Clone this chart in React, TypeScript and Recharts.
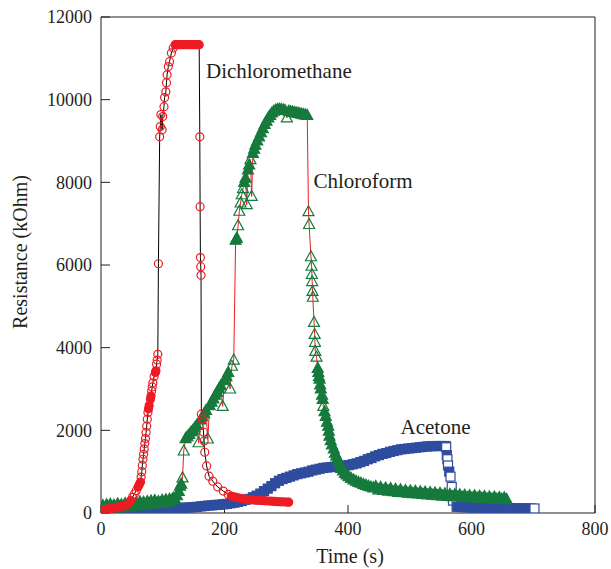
import { LineChart, Line, XAxis, YAxis, ReferenceLine, ReferenceDot } from "recharts";

// Dichloromethane: time (s) and resistance (kOhm)
const dcmTime = [
  0, 3, 6, 9, 12, 15, 18, 21, 24, 27, 30, 33, 36, 39, 42, 45, 48, 51, 54, 57, 60, 62, 64, 65, 66, 67, 68, 69, 70,
  71, 72, 73, 74, 75, 76, 77, 78, 80, 81, 82, 83, 84, 86, 88, 89, 90, 91, 92, 93, 95, 96, 97, 99, 100, 102, 103,
  105, 106, 107, 109, 111, 114, 117, 120, 123, 126, 129, 132, 135, 138, 141, 144, 147, 150, 153, 156, 159, 160,
  160.5, 161, 161.5, 162, 162.5, 164, 166, 167, 168, 171, 175, 181, 189, 198, 206, 211, 216, 221, 226, 231, 236,
  241, 246, 251, 256, 261, 266, 271, 276, 281, 286, 291, 296, 301, 304,
];
const dcmRes = [
  60, 70, 80, 90, 100, 110, 115, 120, 130, 140, 150, 160, 170, 180, 200, 240, 300, 380, 460, 540, 630, 690, 750,
  870, 1000, 1150, 1300, 1420, 1550, 1680, 1800, 1950, 2100, 2270, 2430, 2520, 2600, 2750, 2830, 2950, 3050, 3150,
  3300, 3400, 3440, 3600, 3700, 3840, 6030, 9100, 9350, 9640, 9270, 9590, 9830, 10050, 10190, 10410, 10600, 10800,
  10920, 11130, 11250, 11330, 11330, 11330, 11330, 11330, 11330, 11330, 11330, 11330, 11330, 11330, 11330, 11330,
  11330, 9100, 7410, 6180, 5960, 5750, 2390, 2270, 1960, 1740, 1470, 1140, 890, 770, 630, 530, 450, 410, 390, 370,
  355, 340, 330, 320, 315, 310, 305, 300, 295, 290, 285, 280, 275, 270, 268, 265, 262,
];

// Chloroform
const chlTime = [
  0, 3, 6, 9, 12, 15, 18, 21, 24, 27, 30, 33, 36, 39, 42, 45, 48, 51, 54, 57, 60, 63, 66, 69, 72, 75, 78, 81, 84,
  87, 90, 93, 96, 99, 102, 105, 108, 111, 114, 117, 120, 123, 126, 128, 130, 132, 134,
  137, 140, 143, 146, 149, 152, 155, 158, 161, 164, 167, 170, 173, 176, 179, 182, 185, 188, 191, 194, 197, 200,
  203, 206, 209, 212, 215,
  218, 220, 222, 224, 226, 228, 230, 232, 234, 236, 238, 240, 242, 244, 246, 248, 250, 253, 256, 259, 262, 265,
  268, 271, 274, 277, 280, 283, 286, 289, 292, 295, 298, 301, 304, 307, 310, 313, 316, 319, 322, 325, 328, 331, 334,
  336, 337, 340, 341, 341.5, 342, 342.5, 343, 345, 346, 346.5, 347, 349, 351, 352, 353, 354, 355, 356, 358, 359,
  360, 362, 364, 366, 368, 369, 370, 372, 374, 377, 379, 381, 383, 385, 387, 389, 392, 395, 398, 401, 405, 409,
  413, 417, 421, 425, 429, 433, 437, 441,
  445, 449, 453, 457, 461, 465, 469, 473, 477, 481, 485, 489, 493, 497, 501, 505, 509, 513, 517, 521, 525, 529,
  533, 537, 541, 545, 549, 553, 557, 561, 565, 569, 573, 577, 581, 585, 589, 593, 597, 601, 605, 609, 613, 617,
  621, 625, 629, 633, 637, 641, 645, 649, 653, 657,
];
const chlRes = [
  120, 180, 110, 200, 130, 210, 140, 190, 120, 220, 150, 200, 130, 230, 160, 210, 150, 240, 170, 250, 180, 270,
  200, 260, 190, 280, 210, 290, 220, 300, 230, 280, 240, 310, 250, 320, 260, 330, 300, 360, 330, 420, 520, 650,
  700, 850, 1500,
  1800, 1850, 1900, 1960, 2000, 2060, 2120, 1700, 2250, 2330, 2400, 2480, 1790, 2600, 2680, 2760, 2850, 2920,
  3000, 3080, 2580, 3200, 3300, 3400, 3000, 3550, 3700,
  6600, 6650, 6950, 7300, 7500, 7700, 7850, 8000, 8100, 7460, 8300, 8420, 8550, 7660, 8700, 8800, 8900, 9000,
  9100, 9200, 9300, 9400, 9480, 9560, 9620, 9680, 9720, 9750, 9760, 9770, 9760, 9750, 9740, 9560, 9720, 9710,
  9700, 9690, 9680, 9670, 9660, 9650, 9640, 9630, 9620,
  7290, 6980, 6200, 5970, 5770, 5600, 5360, 5220, 4610, 4320, 4130, 3910, 3770, 3500, 3400, 3300, 3240, 3100,
  3000, 2850, 2750, 2580, 2450, 2340, 2200, 2100, 1980, 1860, 1750, 1650, 1550, 1450, 1380, 1320, 1250, 1150,
  1080, 1020, 960, 920, 880, 840, 800, 770, 740, 720, 690, 670, 650, 630, 610,
  640, 560, 620, 545, 605, 530, 590, 515, 575, 500, 560, 490, 545, 480, 535, 470, 525, 460, 515, 450, 505, 440,
  495, 430, 485, 420, 475, 410, 465, 400, 455, 395, 445, 390, 440, 380, 430, 375, 420, 365, 415, 360, 405, 355,
  400, 345, 390, 340, 385, 335, 375, 330, 370, 325,
];

// Acetone
const aceTime = [
  0, 6, 12, 18, 24, 30, 36, 42, 48, 54, 60, 66, 72, 78, 84, 90, 96, 102, 108, 114, 120, 126, 132, 138, 144, 150,
  156, 162, 168, 174, 180, 186, 192, 198, 204, 210, 216, 222, 228, 234, 240, 246, 252, 258, 264, 270, 276, 282,
  288, 294, 300, 306, 312, 318, 324, 330, 336, 342, 348, 354, 360, 366, 372, 378, 384, 390, 396, 402, 408, 414,
  420, 426, 432, 438, 444, 450, 456, 462, 468, 474, 480, 486, 492, 498, 504, 510, 516, 522, 528, 534, 540, 546,
  552, 558, 559, 560, 561, 562, 564, 566, 568, 570, 576, 582, 588, 594, 600, 606, 612, 618, 624, 630, 636, 642,
  648, 654, 660, 666, 672, 678, 684, 690, 696, 702,
];
const aceRes = [
  80, 80, 85, 85, 90, 90, 95, 95, 100, 100, 100, 105, 105, 110, 110, 110, 115, 115, 115, 120, 120, 120, 125, 130,
  135, 140, 150, 160, 170, 180, 185, 195, 200, 210, 220, 235, 250, 270, 290, 320, 340, 380, 420, 470, 530, 590,
  650, 720, 780, 820, 850, 880, 910, 940, 960, 980, 1000, 1030, 1050, 1070, 1090, 1100, 1110, 1120, 1130, 1140,
  1150, 1160, 1180, 1200, 1230, 1260, 1300, 1330, 1370, 1400, 1430, 1450, 1480, 1500, 1520, 1540, 1550, 1560,
  1570, 1580, 1590, 1600, 1610, 1615, 1620, 1620, 1620, 1620, 1590, 1400, 1300, 1150, 1000, 880, 630, 300, 150,
  145, 140, 140, 135, 135, 130, 130, 125, 125, 125, 120, 120, 120, 115, 115, 115, 115, 110, 110, 110, 110,
];

const xTicks = [0, 200, 400, 600, 800];
const yTicks = [0, 2000, 4000, 6000, 8000, 10000, 12000];

const zip = (ts: number[], rs: number[]) => ts.map((t, i) => ({ t, r: rs[i] }));
const dcmData = zip(dcmTime, dcmRes);
const chlData = zip(chlTime, chlRes);
const aceData = zip(aceTime, aceRes);

const RED = "#ed1c24";
const GREEN = "#167a3c";
const BLUE = "#2f4d9f";
const INK = "#231f20";
const FONT = "'Liberation Serif', 'Times New Roman', serif";

// markers that sit almost on top of their neighbours look solid in the original
const gap = (p: any, j: number) => {
  const pts = p.points;
  if (!pts || p.index == null) return 99;
  const me = pts[p.index];
  const q = pts[j];
  if (!q || q.x == null) return 99;
  return Math.hypot(q.x - me.x, q.y - me.y);
};
const nearest = (p: any) => Math.min(gap(p, p.index - 1), gap(p, p.index + 1));

const CircleDot = (p: any) => (
  <circle key={`c${p.index}`} cx={p.cx} cy={p.cy} r={4} stroke={RED} strokeWidth={1.2}
    fill={nearest(p) < 3.5 ? RED : "none"} />
);
const TriDot = (p: any) => (
  <polygon key={`t${p.index}`}
    points={`${p.cx},${p.cy - 6} ${p.cx - 5.5},${p.cy + 4} ${p.cx + 5.5},${p.cy + 4}`}
    stroke={GREEN} strokeWidth={1.2} fill={nearest(p) < 5.5 ? GREEN : "none"} />
);
// squares are white inside; only the ones covered by the next square read as solid
const SquareDot = (p: any) => (
  <rect key={`s${p.index}`} x={p.cx - 4.5} y={p.cy - 4.5} width={9} height={9} stroke={BLUE} strokeWidth={1.2}
    fill={gap(p, p.index + 1) < 6 ? BLUE : "#fff"} />
);

const YTitle = (props: any) => {
  const vb = props.viewBox;
  const cx = vb.x + 20;
  const cy = vb.y + vb.height / 2 - 13;
  return (
    <text x={cx} y={cy} transform={`rotate(-90 ${cx} ${cy})`} textAnchor="middle" dominantBaseline="central"
      fontFamily={FONT} fontSize={20} fill={INK}>Resistance (kOhm)</text>
  );
};
const XTitle = (props: any) => {
  const vb = props.viewBox;
  return (
    <text x={vb.x + vb.width / 2 + 2} y={vb.y + 50} textAnchor="middle" fontFamily={FONT} fontSize={20}
      fill={INK}>Time (s)</text>
  );
};

const tickStyle = { fontFamily: FONT, fontSize: 18, fill: INK };
const noteStyle = { position: "right" as const, offset: 0, fontFamily: FONT, fontSize: 21, fill: INK };

export default function App() {
  return (
    <div style={{ position: "absolute", left: 0, top: 0 }}>
      <LineChart width={611} height={569} margin={{ top: 17, right: 16, left: 0, bottom: 6 }}>
        <XAxis type="number" dataKey="t" domain={[0, 800]} ticks={xTicks} allowDataOverflow
          tick={tickStyle} tickSize={-8} tickMargin={17} height={50} stroke={INK}
          label={<XTitle />} />
        <YAxis type="number" dataKey="r" domain={[0, 12000]} ticks={yTicks} allowDataOverflow
          tick={tickStyle} tickSize={-9} tickMargin={18} width={101} stroke={INK}
          label={<YTitle />} />
        <ReferenceLine y={12000} stroke={INK} />
        <ReferenceLine x={800} stroke={INK} />
        <Line data={aceData} dataKey="r" stroke="#000" strokeWidth={1} dot={SquareDot}
          isAnimationActive={false} activeDot={false} />
        <Line data={chlData} dataKey="r" stroke={RED} strokeWidth={1} dot={TriDot}
          isAnimationActive={false} activeDot={false} />
        <Line data={dcmData} dataKey="r" stroke="#000" strokeWidth={1} dot={CircleDot}
          isAnimationActive={false} activeDot={false} />
        <ReferenceDot x={170} y={10700} r={0} stroke="none" fill="none"
          label={{ value: "Dichloromethane", ...noteStyle }} />
        <ReferenceDot x={344} y={8050} r={0} stroke="none" fill="none"
          label={{ value: "Chloroform", ...noteStyle }} />
        <ReferenceDot x={485} y={2100} r={0} stroke="none" fill="none"
          label={{ value: "Acetone", ...noteStyle }} />
      </LineChart>
    </div>
  );
}
